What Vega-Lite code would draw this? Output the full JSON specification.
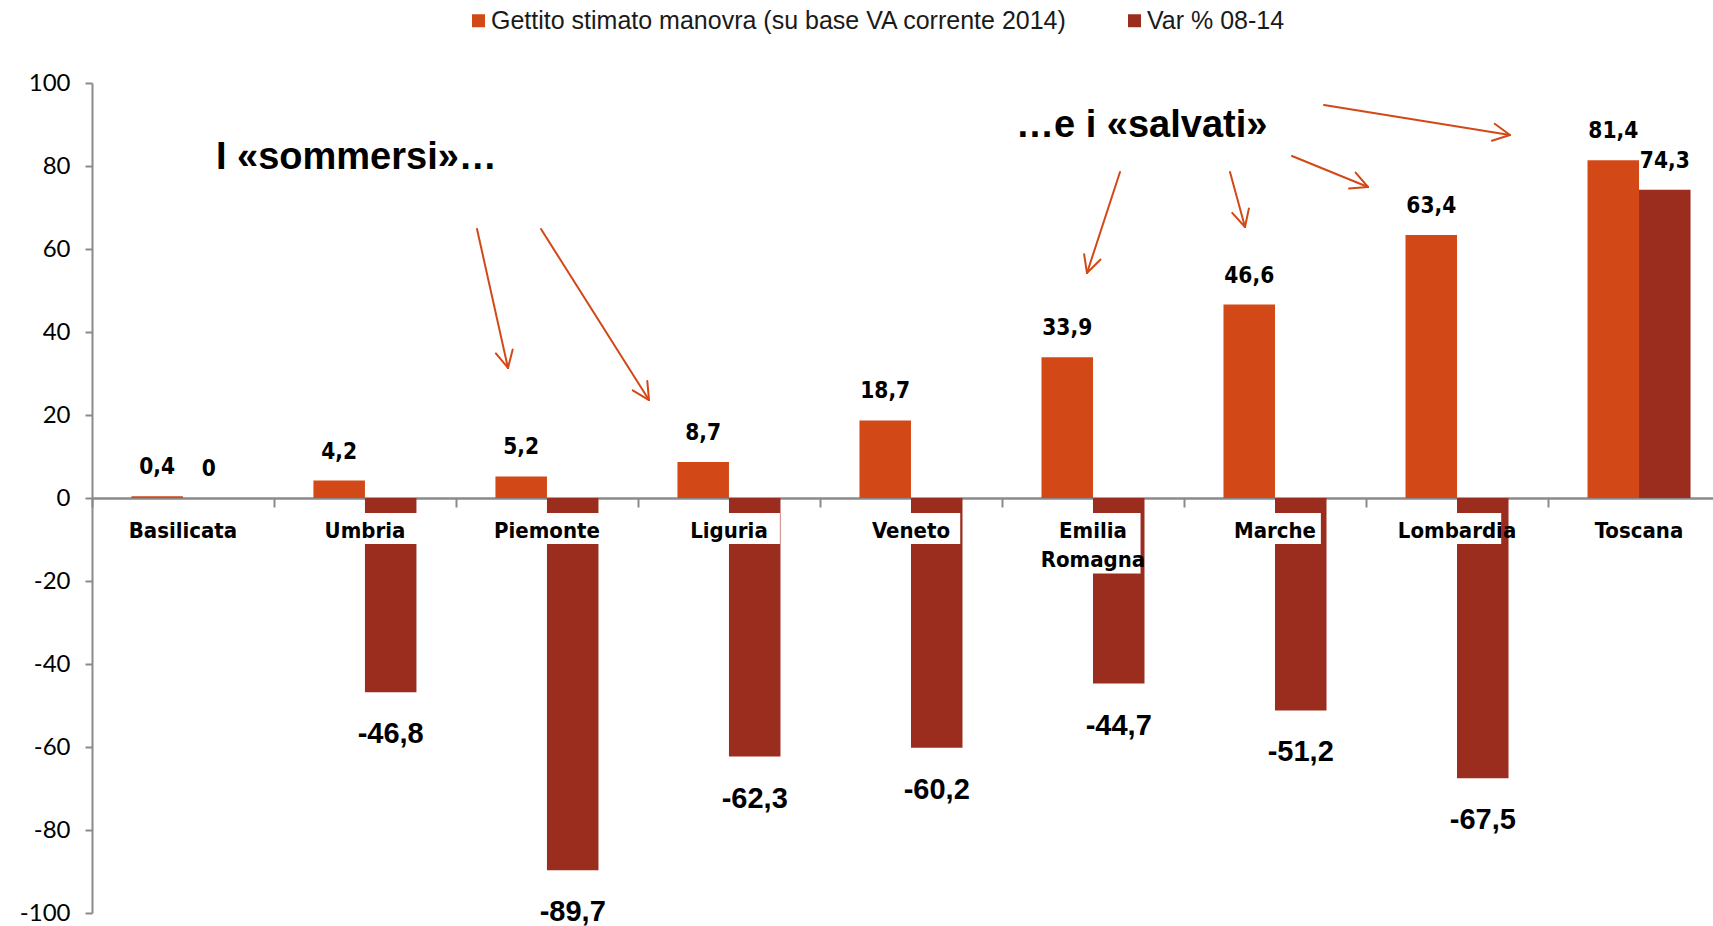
{
  "$schema": "https://vega.github.io/schema/vega-lite/v6.json",
  "width": 1621,
  "height": 830,
  "autosize": {"type": "none"},
  "padding": {"left": 92, "top": 83, "right": 0, "bottom": 13},
  "background": "white",
  "config": {
    "view": {"stroke": null},
    "font": "Liberation Sans",
    "locale": {"number": {"decimal": ",", "thousands": ".", "grouping": [3], "currency": ["", " €"], "minus": "-"}}
  },
  "datasets": {
    "bars": [
      {"region": "Basilicata", "series": "Gettito stimato manovra (su base VA corrente 2014)", "value": 0.4},
      {"region": "Basilicata", "series": "Var % 08-14", "value": 0},
      {"region": "Umbria", "series": "Gettito stimato manovra (su base VA corrente 2014)", "value": 4.2},
      {"region": "Umbria", "series": "Var % 08-14", "value": -46.8},
      {"region": "Piemonte", "series": "Gettito stimato manovra (su base VA corrente 2014)", "value": 5.2},
      {"region": "Piemonte", "series": "Var % 08-14", "value": -89.7},
      {"region": "Liguria", "series": "Gettito stimato manovra (su base VA corrente 2014)", "value": 8.7},
      {"region": "Liguria", "series": "Var % 08-14", "value": -62.3},
      {"region": "Veneto", "series": "Gettito stimato manovra (su base VA corrente 2014)", "value": 18.7},
      {"region": "Veneto", "series": "Var % 08-14", "value": -60.2},
      {"region": "Emilia Romagna", "series": "Gettito stimato manovra (su base VA corrente 2014)", "value": 33.9},
      {"region": "Emilia Romagna", "series": "Var % 08-14", "value": -44.7},
      {"region": "Marche", "series": "Gettito stimato manovra (su base VA corrente 2014)", "value": 46.6},
      {"region": "Marche", "series": "Var % 08-14", "value": -51.2},
      {"region": "Lombardia", "series": "Gettito stimato manovra (su base VA corrente 2014)", "value": 63.4},
      {"region": "Lombardia", "series": "Var % 08-14", "value": -67.5},
      {"region": "Toscana", "series": "Gettito stimato manovra (su base VA corrente 2014)", "value": 81.4},
      {"region": "Toscana", "series": "Var % 08-14", "value": 74.3}
    ],
    "arrows": [
      {"x": 2.1154, "y": 64.82, "x2": 2.2857, "y2": 31.33},
      {"x": 2.2857, "y": 31.33, "x2": 2.3115, "y2": 35.76},
      {"x": 2.2857, "y": 31.33, "x2": 2.2192, "y2": 34.84},
      {"x": 2.4670, "y": 64.82, "x2": 3.0604, "y2": 23.61},
      {"x": 3.0604, "y": 23.61, "x2": 3.0511, "y2": 28.17},
      {"x": 3.0604, "y": 23.61, "x2": 2.9709, "y2": 25.95},
      {"x": 5.6484, "y": 78.55, "x2": 5.4670, "y2": 54.22},
      {"x": 5.4670, "y": 54.22, "x2": 5.5412, "y2": 57.45},
      {"x": 5.4670, "y": 54.22, "x2": 5.4511, "y2": 58.75},
      {"x": 6.2527, "y": 78.55, "x2": 6.3352, "y2": 65.30},
      {"x": 6.3352, "y": 65.30, "x2": 6.3566, "y2": 69.78},
      {"x": 6.3352, "y": 65.30, "x2": 6.2648, "y2": 68.70},
      {"x": 6.5934, "y": 82.41, "x2": 7.0110, "y2": 74.94},
      {"x": 7.0110, "y": 74.94, "x2": 6.9429, "y2": 78.41},
      {"x": 7.0110, "y": 74.94, "x2": 6.9071, "y2": 74.55},
      {"x": 6.7692, "y": 94.70, "x2": 7.7912, "y2": 87.47},
      {"x": 7.7912, "y": 87.47, "x2": 7.7071, "y2": 90.17},
      {"x": 7.7912, "y": 87.47, "x2": 7.6918, "y2": 86.07}
    ],
    "notes": [
      {"x": 0.681, "y": 81.9, "text": "I «sommersi»…"},
      {"x": 5.077, "y": 89.7, "text": "…e i «salvati»"}
    ]
  },
  "layer": [
    {
      "data": {"name": "bars"},
      "layer": [
        {
          "mark": {"type": "bar"},
          "encoding": {
            "x": {"field": "region", "type": "nominal", "sort": ["Basilicata", "Umbria", "Piemonte", "Liguria", "Veneto", "Emilia Romagna", "Marche", "Lombardia", "Toscana"], "scale": {"paddingInner": 0.434, "paddingOuter": 0.17, "align": 0.637}, "axis": null},
            "xOffset": {"field": "series", "type": "nominal", "sort": ["Gettito stimato manovra (su base VA corrente 2014)", "Var % 08-14"]},
            "y": {"field": "value", "type": "quantitative", "title": null, "scale": {"domain": [-100, 100], "nice": false},
              "axis": {"values": [-100, -80, -60, -40, -20, 0, 20, 40, 60, 80, 100], "grid": false, "domainColor": "#8a8a8a", "domainWidth": 2, "tickColor": "#8a8a8a", "tickWidth": 2, "tickSize": 7, "labelFont": "Lato", "labelFontSize": 24, "labelColor": "#000000", "labelPadding": 15}},
            "color": {"field": "series", "type": "nominal",
              "scale": {"domain": ["Gettito stimato manovra (su base VA corrente 2014)", "Var % 08-14"], "range": ["#D34817", "#9B2D1F"]},
              "legend": {"orient": "none", "legendX": 374, "legendY": -75, "direction": "horizontal", "title": null, "symbolType": "square", "symbolSize": 169, "symbolStrokeWidth": 0, "symbolOpacity": 1, "labelFont": "Liberation Sans", "labelFontSize": 25, "labelColor": "#1a1a1a", "columnPadding": 54, "labelOffset": 0, "labelLimit": 800}}
          }
        },
        {
          "transform": [{"filter": "datum.series === 'Var % 08-14' && datum.region !== 'Emilia Romagna'"}],
          "mark": {"type": "bar", "fill": "white"},
          "encoding": {
            "x": {"field": "region", "type": "nominal", "sort": ["Basilicata", "Umbria", "Piemonte", "Liguria", "Veneto", "Emilia Romagna", "Marche", "Lombardia", "Toscana"]},
            "y": {"datum": -3.6, "type": "quantitative"},
            "y2": {"datum": -11.1},
            "size": {"field": "region", "type": "ordinal", "sort": ["Basilicata", "Umbria", "Piemonte", "Liguria", "Veneto", "Emilia Romagna", "Marche", "Lombardia", "Toscana"], "scale": {"range": [112, 85, 108, 81, 82, 108, 86, 117, 96]}, "legend": null}
          }
        },
        {
          "transform": [{"filter": "datum.series === 'Var % 08-14' && datum.region === 'Emilia Romagna'"}],
          "mark": {"type": "bar", "fill": "white"},
          "encoding": {
            "x": {"field": "region", "type": "nominal", "sort": ["Basilicata", "Umbria", "Piemonte", "Liguria", "Veneto", "Emilia Romagna", "Marche", "Lombardia", "Toscana"]},
            "y": {"datum": -3.6, "type": "quantitative"},
            "y2": {"datum": -18.2},
            "size": {"field": "region", "type": "ordinal", "sort": ["Basilicata", "Umbria", "Piemonte", "Liguria", "Veneto", "Emilia Romagna", "Marche", "Lombardia", "Toscana"], "scale": {"range": [112, 85, 108, 81, 82, 108, 86, 117, 96]}, "legend": null}
          }
        },
        {
          "transform": [{"filter": "datum.series === 'Var % 08-14'"}],
          "mark": {"type": "text", "font": "DejaVu Sans Condensed", "fontWeight": "bold", "fontSize": 22, "baseline": "top", "align": "center", "dy": 23, "lineBreak": " ", "lineHeight": 29, "fill": "#000000"},
          "encoding": {
            "x": {"field": "region", "type": "nominal", "sort": ["Basilicata", "Umbria", "Piemonte", "Liguria", "Veneto", "Emilia Romagna", "Marche", "Lombardia", "Toscana"]},
            "y": {"datum": 0, "type": "quantitative"},
            "text": {"field": "region"}
          }
        },
        {
          "transform": [{"filter": "datum.value >= 0"}],
          "mark": {"type": "text", "font": "DejaVu Sans Condensed", "fontWeight": "bold", "fontSize": 22.5, "baseline": "middle", "align": "center", "dy": -29, "fill": "#000000"},
          "encoding": {
            "x": {"field": "region", "type": "nominal", "sort": ["Basilicata", "Umbria", "Piemonte", "Liguria", "Veneto", "Emilia Romagna", "Marche", "Lombardia", "Toscana"]},
            "xOffset": {"field": "series", "type": "nominal", "sort": ["Gettito stimato manovra (su base VA corrente 2014)", "Var % 08-14"]},
            "y": {"field": "value", "type": "quantitative", "title": null},
            "text": {"field": "value", "type": "quantitative", "format": ".1~f"}
          }
        },
        {
          "transform": [{"filter": "datum.value < 0"}],
          "mark": {"type": "text", "font": "Liberation Sans", "fontWeight": "bold", "fontSize": 29, "baseline": "middle", "align": "center", "dy": 42, "fill": "#000000"},
          "encoding": {
            "x": {"field": "region", "type": "nominal", "sort": ["Basilicata", "Umbria", "Piemonte", "Liguria", "Veneto", "Emilia Romagna", "Marche", "Lombardia", "Toscana"]},
            "xOffset": {"field": "series", "type": "nominal", "sort": ["Gettito stimato manovra (su base VA corrente 2014)", "Var % 08-14"]},
            "y": {"field": "value", "type": "quantitative", "title": null},
            "text": {"field": "value", "type": "quantitative", "format": ".1~f"}
          }
        }
      ]
    },
    {
      "layer": [
        {
          "data": {"name": "arrows"},
          "mark": {"type": "rule", "color": "#D34817", "strokeWidth": 2, "strokeCap": "round"},
          "encoding": {
            "x": {"field": "x", "type": "quantitative", "scale": {"domain": [0, 8.9066], "nice": false, "zero": false},
              "axis": {"orient": "bottom", "offset": -415, "values": [0, 1, 2, 3, 4, 5, 6, 7, 8], "labels": false, "grid": false, "title": null, "domainColor": "#8a8a8a", "domainWidth": 2.5, "tickColor": "#8a8a8a", "tickWidth": 2, "tickSize": 9}},
            "x2": {"field": "x2"},
            "y": {"field": "y", "type": "quantitative", "title": null},
            "y2": {"field": "y2"}
          }
        },
        {
          "data": {"name": "notes"},
          "mark": {"type": "text", "font": "Liberation Sans", "fontWeight": "bold", "fontSize": 38, "align": "left", "baseline": "middle", "fill": "#000000"},
          "encoding": {
            "x": {"field": "x", "type": "quantitative"},
            "y": {"field": "y", "type": "quantitative", "title": null},
            "text": {"field": "text"}
          }
        }
      ]
    }
  ],
  "resolve": {"scale": {"x": "independent"}}
}
